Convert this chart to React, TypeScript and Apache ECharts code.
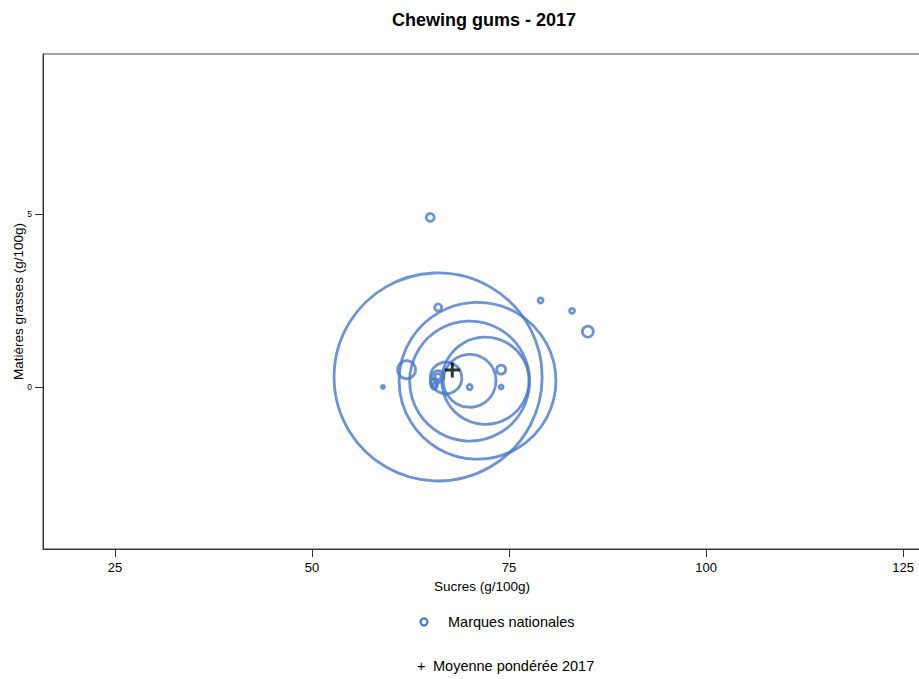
import React, { useEffect, useRef } from "react";
import * as echarts from "echarts";

const titre = "Chewing gums - 2017";
const sucres = [66, 71, 70, 72, 70, 67, 62, 66, 66, 65.5, 65.5, 59, 66, 79, 83, 85, 74, 70, 74, 65];
const matieresGrasses = [0.29, 0.18, 0.17, 0.18, 0.18, 0.26, 0.5, 0.3, 0.3, 0.12, 0.02, 0, 2.3, 2.5, 2.2, 1.6, 0.5, 0, 0, 4.9];
const poids = [433, 246, 144, 76, 28, 10, 3.2, 1.4, 0.36, 0.64, 0.36, 0.09, 0.49, 0.25, 0.25, 1.2, 0.8, 0.25, 0.16, 0.64];
const moyenne = [[67.8, 0.49]];
const xTicks = [25, 50, 75, 100, 125];
const yTicks = [0, 5];

const COLOR = "#4878c4";
const FONT = "Liberation Sans, Arial, sans-serif";

export default function App() {
  const ref = useRef<HTMLDivElement>(null);
  useEffect(() => {
    if (!ref.current) return;
    const chart = echarts.init(ref.current, null, { renderer: "svg" });
    const data = sucres.map((x, i) => [x, matieresGrasses[i], poids[i]]);
    chart.setOption({
      animation: false,
      textStyle: { fontFamily: FONT },
      title: {
        text: titre,
        left: 479,
        textAlign: "center",
        top: 6,
        textStyle: { fontSize: 18, fontWeight: "bold", color: "#000", fontFamily: FONT },
      },
      grid: {
        left: 43,
        top: 54,
        right: -2,
        bottom: 130,
        show: true,
        borderColor: "#444",
        borderWidth: 1,
        containLabel: false,
        outerBoundsMode: "none",
      },
      xAxis: {
        type: "value",
        min: 15.86,
        max: 127.28,
        name: "Sucres (g/100g)",
        nameLocation: "middle",
        nameGap: 30,
        nameTextStyle: { fontSize: 13.5, color: "#000", fontFamily: FONT },
        axisLine: { show: true, onZero: false, lineStyle: { color: "#333" } },
        splitLine: { show: false },
        axisTick: { show: true, length: 8, customValues: xTicks, lineStyle: { color: "#333" } },
        axisLabel: { customValues: xTicks, fontSize: 13, color: "#000", margin: 12, fontFamily: FONT },
      },
      yAxis: {
        type: "value",
        min: -4.68,
        max: 9.62,
        name: "Matières grasses (g/100g)",
        nameLocation: "middle",
        nameGap: 18,
        nameMoveOverlap: false,
        nameTextStyle: { fontSize: 13.5, color: "#000", fontFamily: FONT },
        axisLine: { show: true, onZero: false, lineStyle: { color: "#333" } },
        splitLine: { show: false },
        axisTick: { show: true, length: 8, customValues: yTicks, lineStyle: { color: "#333" } },
        axisLabel: {
          customValues: yTicks,
          fontSize: 8.5,
          color: "#000",
          margin: 11,
          align: "right",
          verticalAlign: "middle",
          fontFamily: FONT,
        },
      },
      series: [
        {
          name: "Marques nationales",
          type: "scatter",
          data,
          symbol: "circle",
          symbolSize: (v: number[]) => Math.sqrt(v[2]) * 10,
          itemStyle: { color: "transparent", borderColor: COLOR, borderWidth: 2.8 },
          z: 2,
        },
        {
          name: "Moyenne pondérée 2017",
          type: "scatter",
          data: moyenne,
          symbol: "path://M4,0H6V4H10V6H6V10H4V6H0V4H4Z",
          symbolSize: 15,
          itemStyle: { color: "#000" },
          z: 3,
        },
      ],
      graphic: [
        {
          type: "circle",
          shape: { cx: 424, cy: 622, r: 3.5 },
          style: { fill: "none", stroke: COLOR, lineWidth: 2.2 },
        },
        {
          type: "text",
          x: 448,
          y: 622,
          style: { text: "Marques nationales", fill: "#000", verticalAlign: "middle", font: `14.5px ${FONT}` },
        },
        {
          type: "text",
          x: 417,
          y: 666,
          style: { text: "+", fill: "#000", verticalAlign: "middle", font: `14.5px ${FONT}` },
        },
        {
          type: "text",
          x: 433,
          y: 666,
          style: { text: "Moyenne pondérée 2017", fill: "#000", verticalAlign: "middle", font: `14.5px ${FONT}` },
        },
      ],
    });
    return () => chart.dispose();
  }, []);
  return <div ref={ref} style={{ width: 919, height: 679, position: "absolute", left: 0, top: 0 }} />;
}
